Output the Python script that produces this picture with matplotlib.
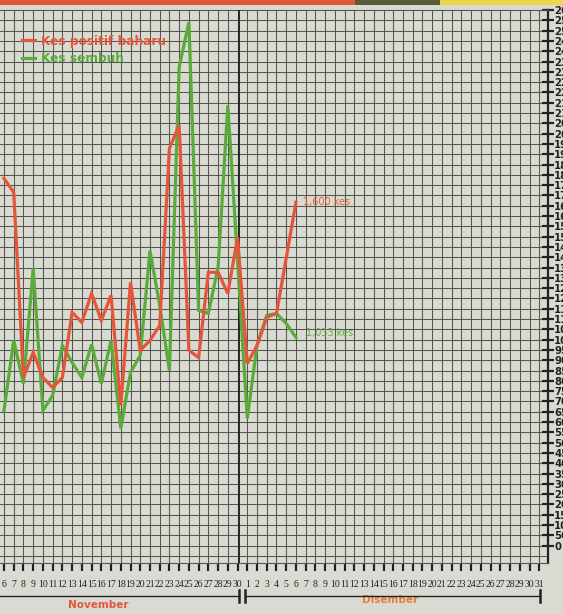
import matplotlib
matplotlib.use("Agg")
import matplotlib.pyplot as plt
import matplotlib.transforms as mtransforms
from matplotlib.lines import Line2D
from matplotlib.patches import Rectangle
import numpy as np

## ------------------------------
## data (Nov 6 .. Dec 6)
nov_days = list(range(6, 31))
dec_days = list(range(1, 32))
tick_labels = [str(d) for d in nov_days] + [str(d) for d in dec_days]

kes_baharu = [1783, 1715, 816, 938, 816, 768, 816, 1132, 1084, 1224, 1093, 1215, 680, 1278,
              948, 996, 1069, 1929, 2041, 948, 913, 1327, 1327, 1224, 1497,
              884, 972, 1108, 1127, 1395, 1667]
kes_sembuh = [656, 996, 787, 1346, 656, 729, 972, 889, 816, 977, 787, 996, 569, 841,
              923, 1433, 1166, 850, 2323, 2541, 1142, 1127, 1351, 2138, 1385,
              617, 972, 1118, 1127, 1079, 1011]
label_baharu = "1,600 kes"
label_sembuh = "1,033 kes"
y_ticks = list(range(0, 2650, 50))

red = "#e4553a"
green = "#5aaa3c"
paper = "#d9dbd3"
ink = "#55574f"

fig = plt.figure(figsize=(5.63, 6.14), dpi=100, facecolor=paper)
ax = fig.add_axes([0.0, 1 - 563 / 614, 548 / 563, 553 / 614])
ax.set_facecolor(paper)

xs = np.arange(len(kes_baharu))
ax.plot(xs, kes_baharu, color=red, lw=2.3, solid_joinstyle="miter", zorder=5, label="Kes positif baharu")
ax.plot(xs, kes_sembuh, color=green, lw=2.3, solid_joinstyle="miter", zorder=4, label="Kes sembuh")

ax.set_xlim(-0.41, 55.9)
ax.set_ylim(-84, 2600)

# graph-paper grid
for x in range(0, 56):
    ax.axvline(x, color=ink, lw=0.75, zorder=1)
for y in range(-50, 2600, 50):
    ax.axhline(y, color=ink, lw=0.75, zorder=1)
ax.axvline(24.15, color="#1e1e1e", lw=1.3, zorder=3)

ax.set_xticks(range(len(tick_labels)))
ax.set_xticklabels(tick_labels, family=["Liberation Serif", "DejaVu Serif"], fontsize=7, color="#222")
ax.tick_params(axis="x", direction="out", length=6, width=1.6, color="#222", pad=6)

ax.yaxis.tick_right()
ax.set_yticks(y_ticks)
ax.set_yticklabels([str(v) for v in y_ticks], family=["Liberation Sans Narrow", "DejaVu Sans"],
                   fontsize=7.3, fontweight="bold", color="#222")
ax.tick_params(axis="y", direction="inout", length=8, width=1.6, color="#222", pad=0.5)

ax.spines["left"].set_visible(False)
ax.spines["right"].set_linewidth(1.6)
ax.spines["right"].set_color("#222")
ax.spines["top"].set_color(ink)
ax.spines["bottom"].set_color(ink)

leg = ax.legend(loc="upper left", bbox_to_anchor=(0.02, 0.975), frameon=False, handlelength=1.1,
                handletextpad=0.5, labelspacing=0.35, prop={"size": 8.7, "weight": "bold"})
for txt, c in zip(leg.get_texts(), [red, green]):
    txt.set_color(c)

ax.annotate(label_baharu, xy=(xs[-1], kes_baharu[-1]), xytext=(7, 0), textcoords="offset pixels",
            color="#e0602e", fontsize=7, va="center")
ax.annotate(label_sembuh, xy=(xs[-1], kes_sembuh[-1]), xytext=(10, 4), textcoords="offset pixels",
            color="#62b040", fontsize=7, va="center")

# month bracket under the day labels
trans = mtransforms.blended_transform_factory(ax.transData, fig.transFigure)
yb = 1 - 596 / 614
for x0, x1 in [(-0.5, 24.15), (24.75, 55.1)]:
    fig.add_artist(Line2D([x0, x1], [yb, yb], transform=trans, color="#222", lw=1.0))
for xb in [24.15, 24.75, 55.1]:
    fig.add_artist(Line2D([xb, xb], [yb - 0.009, yb + 0.009], transform=trans, color="#222", lw=1.8))
ax.text(9.7, 1 - 605 / 614, "November", transform=trans, ha="center", va="center",
        color="#e4553a", fontsize=7.5, fontweight="bold")
ax.text(39.7, 1 - 600 / 614, "Disember", transform=trans, ha="center", va="center",
        color="#e8803a", fontsize=7.5, fontweight="bold")

# strip of the page header
fig.add_artist(Rectangle((0, 1 - 5 / 614), 355 / 563, 5 / 614, transform=fig.transFigure, color="#e4553a", lw=0))
fig.add_artist(Rectangle((355 / 563, 1 - 5 / 614), 85 / 563, 5 / 614, transform=fig.transFigure, color="#5a5a3c", lw=0))
fig.add_artist(Rectangle((440 / 563, 1 - 5 / 614), 123 / 563, 5 / 614, transform=fig.transFigure, color="#e8d84a", lw=0))

plt.savefig("out.png", dpi=100, facecolor=paper)
